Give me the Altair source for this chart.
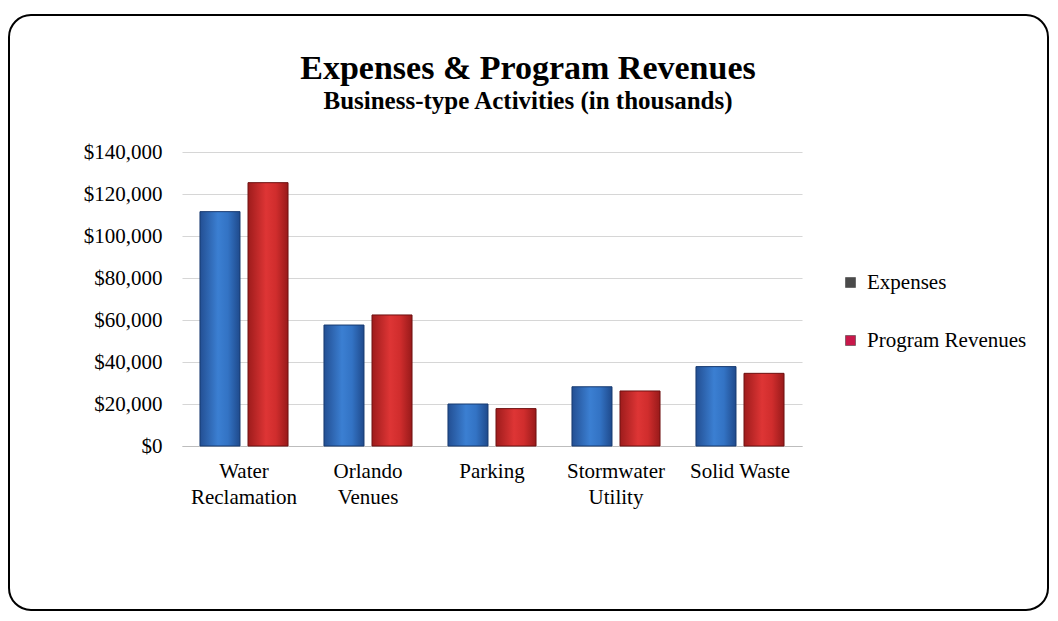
import altair as alt
import pandas as pd

categories = ["Water Reclamation", "Orlando Venues", "Parking", "Stormwater Utility", "Solid Waste"]
expenses = [111600, 57600, 20000, 28200, 37800]
program_revenues = [125400, 62400, 17800, 26200, 34600]
series = ["Expenses", "Program Revenues"]
y_ticks = [0, 20000, 40000, 60000, 80000, 100000, 120000, 140000]

rows = []
for c, e, r in zip(categories, expenses, program_revenues):
    rows.append({"category": c, "series": series[0], "value": e})
    rows.append({"category": c, "series": series[1], "value": r})
df = pd.DataFrame(rows)

FONT = "Liberation Serif"

blue_grad = alt.Gradient(
    gradient="linear", x1=0, x2=1, y1=0, y2=0,
    stops=[alt.GradientStop(color="#234f93", offset=0),
           alt.GradientStop(color="#3b7fd2", offset=0.45),
           alt.GradientStop(color="#3373c4", offset=0.7),
           alt.GradientStop(color="#1f4a8c", offset=1)])
red_grad = alt.Gradient(
    gradient="linear", x1=0, x2=1, y1=0, y2=0,
    stops=[alt.GradientStop(color="#9e1c1c", offset=0),
           alt.GradientStop(color="#de3535", offset=0.45),
           alt.GradientStop(color="#d02d2d", offset=0.7),
           alt.GradientStop(color="#981a1a", offset=1)])

base = alt.Chart(df).encode(
    x=alt.X("category:N", sort=categories,
            scale=alt.Scale(paddingInner=0.29, paddingOuter=0.145),
            axis=alt.Axis(title=None, labelAngle=0, ticks=False, domain=True,
                          domainColor="#bdbdbd", labelFont=FONT, labelFontSize=21,
                          labelColor="black", labelPadding=14, labelLineHeight=26,
                          labelExpr="datum.value == 'Solid Waste' ? datum.value : split(datum.value, ' ')")),
    xOffset=alt.XOffset("series:N", sort=series,
                        scale=alt.Scale(domain=series, paddingInner=0.167, paddingOuter=0)),
    y=alt.Y("value:Q", scale=alt.Scale(domain=[0, 140000], nice=False),
            axis=alt.Axis(title=None, values=y_ticks, format="$,.0f", ticks=False,
                          domain=False, grid=True, gridColor="#d6d6d6", gridWidth=1.2,
                          labelFont=FONT, labelFontSize=21, labelColor="black",
                          labelPadding=20)),
)

frame = alt.Chart(alt.Data(values=[{"k": 1}])).mark_rect(
    fill=None, stroke="black", strokeWidth=2, cornerRadius=22
).encode(x=alt.value(-173), x2=alt.value(866), y=alt.value(-137), y2=alt.value(458))

bars_exp = base.transform_filter(alt.datum.series == series[0]).mark_bar(
    color=blue_grad, stroke="#173a70", strokeWidth=1)
bars_rev = base.transform_filter(alt.datum.series == series[1]).mark_bar(
    color=red_grad, stroke="#6e1010", strokeWidth=1)

legend_layer = base.transform_filter("false").mark_square(filled=True, opacity=1).encode(
    color=alt.Color("series:N", sort=series,
                    scale=alt.Scale(domain=series, range=["#4a4a4a", "#c8184a"]),
                    legend=alt.Legend(title=None, orient="none", legendX=658, legendY=120,
                                      symbolType="square", symbolSize=100, symbolOpacity=1,
                                      symbolStrokeColor="#333333", symbolStrokeWidth=0.5,
                                      labelFont=FONT, labelFontSize=21, labelColor="black",
                                      labelOffset=6, rowPadding=36))
)

chart = alt.layer(frame, bars_exp, bars_rev, legend_layer).properties(
    width=620, height=294,
    autosize=alt.AutoSizeParams(type="none"),
    padding={"left": 174, "top": 144, "right": 248, "bottom": 167},
    title=alt.Title(
        text="Expenses & Program Revenues",
        subtitle="Business-type Activities (in thousands)",
        font=FONT, fontSize=34, fontWeight="bold", color="black",
        subtitleFont=FONT, subtitleFontSize=25, subtitleFontWeight="bold",
        subtitleColor="black", subtitlePadding=3,
        anchor="middle", frame="group", dx=36, offset=-100),
).configure(background="white").configure_view(stroke=None)

chart.save("out.html", embed_options={"renderer": "svg", "actions": False})
